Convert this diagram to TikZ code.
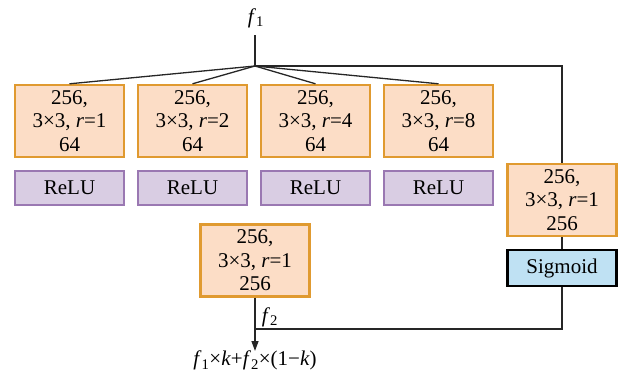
\documentclass[tikz,border=0pt]{standalone}
\usepackage{fontspec}
\setmainfont{Liberation Serif}
\usetikzlibrary{arrows.meta}
\definecolor{convfill}{HTML}{FCDDC6}
\definecolor{convdraw}{HTML}{E09A30}
\definecolor{relufill}{HTML}{D9CDE3}
\definecolor{reludraw}{HTML}{9A78B2}
\definecolor{sigfill}{HTML}{BFE1F3}
\tikzset{
  txt/.style={font=\fontsize{21}{23.5}\selectfont},
  conv/.style={txt, draw=convdraw, fill=convfill, line width=2.4pt, minimum width=109pt, minimum height=72pt, inner sep=0pt, align=center},
  relu/.style={txt, draw=reludraw, fill=relufill, line width=2pt, minimum width=109pt, minimum height=34pt, inner sep=0pt},
  sig/.style={txt, draw=black, fill=sigfill, line width=2.4pt, minimum width=109pt, minimum height=36pt, inner sep=0pt},
  lbl/.style={txt, inner sep=1pt},
  conn/.style={draw=black!85, line width=1.3pt},
}
\newcommand{\convtext}[2]{256,\\3×3, \textit{r}=#1\\#2}
\begin{document}
\begin{tikzpicture}[x=1pt,y=-1pt]
\useasboundingbox (0,0) rectangle (623,375);
\node[lbl] (f1) at (256,18) {\textit{f}\textsubscript{1}};
\coordinate (t) at (255,35);
\coordinate (j) at (255,66);
\node[conv] (b1) at (69.5,121) {\convtext{1}{64}};
\node[conv] (b2) at (192.5,121) {\convtext{2}{64}};
\node[conv] (b3) at (315.5,121) {\convtext{4}{64}};
\node[conv] (b4) at (438.5,121) {\convtext{8}{64}};
\node[relu] (r1) at (69.5,188) {ReLU};
\node[relu] (r2) at (192.5,188) {ReLU};
\node[relu] (r3) at (315.5,188) {ReLU};
\node[relu] (r4) at (438.5,188) {ReLU};
\node[conv] (br) at (562,200) {\convtext{1}{256}};
\node[sig] (sg) at (562,268) {Sigmoid};
\node[conv] (bb) at (255,260.5) {\convtext{1}{256}};
\coordinate (m) at (255,329);
\coordinate (e) at (255,351);
\node[lbl, anchor=north] (out) at (255,350) {\textit{f}\textsubscript{1}×\textit{k}+\textit{f}\textsubscript{2}×(1−\textit{k})};
\node[lbl] (f2) at (270,317) {\textit{f}\textsubscript{2}};
\draw[conn] (t) -- (j);
\draw[conn] (j) -- (b1.north);
\draw[conn] (j) -- (b2.north);
\draw[conn] (j) -- (b3.north);
\draw[conn] (j) -- (b4.north);
\draw[conn] (j) -| (br.north);
\draw[conn] (br.south) -- (sg.north);
\draw[conn] (sg.south) |- (m);
\draw[conn, -{Triangle[length=10pt,width=7pt]}] (bb.south) -- (e);
\end{tikzpicture}
\end{document}
